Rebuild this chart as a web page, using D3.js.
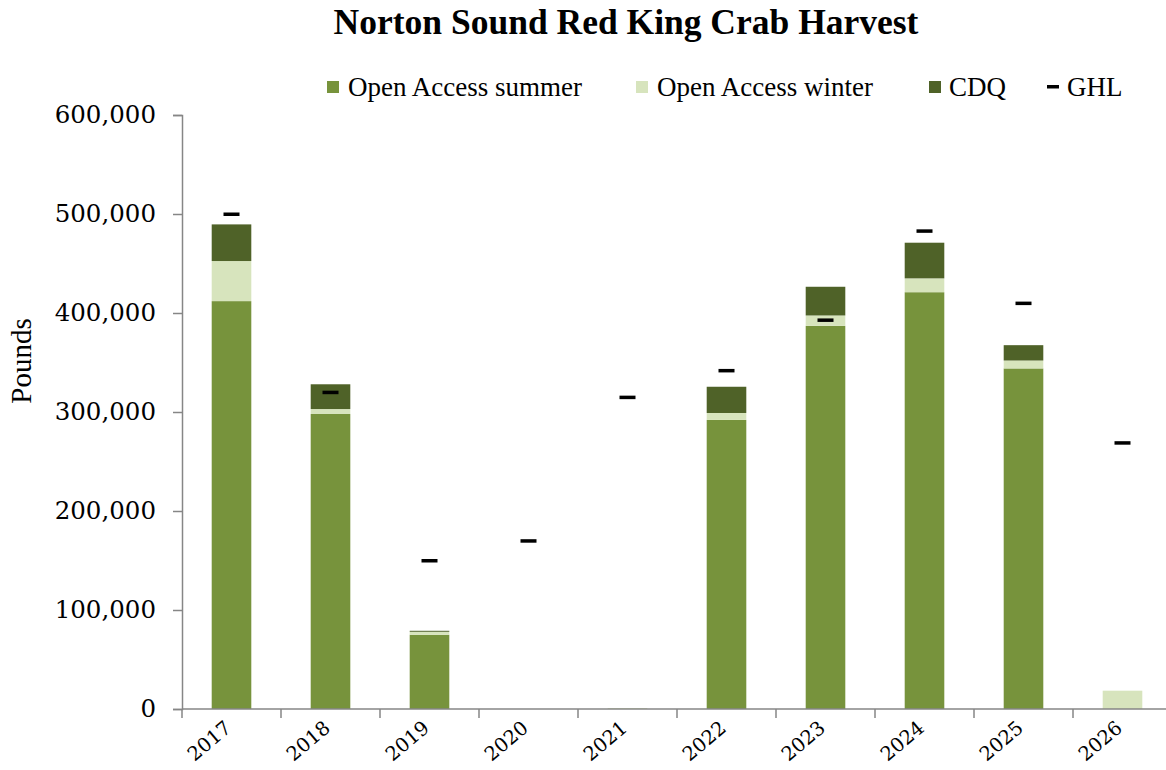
<!DOCTYPE html>
<html>
<head>
<meta charset="utf-8">
<script src="https://cdn.jsdelivr.net/npm/d3@7"></script>
<style>
  body { margin: 0; background: #fff; }
  svg { display: block; }
  .axis path, .axis line { stroke: #868686; stroke-width: 1.5; }
</style>
</head>
<body>
<script>
// values (pounds)
var years = ["2017", "2018", "2019", "2020", "2021", "2022", "2023", "2024", "2025", "2026"];
var summer = [412000, 298000, 75000, 0, 0, 292000, 387000, 421000, 344000, 0];
var winter = [40500, 5000, 3000, 0, 1000, 7000, 10500, 14000, 8000, 18500];
var cdq = [37000, 25000, 1000, 0, 0, 26500, 29000, 36000, 15500, 0];
var ghl = [500000, 320000, 150000, 170000, 315000, 342000, 393000, 483000, 410000, 269000];
var yTicks = [0, 100000, 200000, 300000, 400000, 500000, 600000];

var seriesNames = ["Open Access summer", "Open Access winter", "CDQ"];
var colors = ["#77933C", "#D7E4BD", "#4F6228"];

var width = 1166, height = 770;
var margin = { top: 115, left: 182 },
  h = 594,
  w = 990;

var svg = d3.select("body")
  .append("svg")
  .attr("width", width)
  .attr("height", height);

var rows = years.map(function (y, i) {
  return { year: y, summer: summer[i], winter: winter[i], cdq: cdq[i], ghl: ghl[i] };
});
var stack = d3.stack().keys(["summer", "winter", "cdq"]);
var layers = stack(rows);

var xScale = d3.scaleBand().domain(years).range([0, w]).paddingInner(0).paddingOuter(0);
var yScale = d3.scaleLinear().domain([0, 600000]).range([h, 0]);

var g = svg.append("g")
  .attr("transform", "translate(" + margin.left + "," + margin.top + ")");

// bars
var barW = xScale.bandwidth() * 0.4;
g.selectAll("g.layer")
  .data(layers)
  .enter()
  .append("g")
  .attr("class", "layer")
  .style("fill", function (d, i) { return colors[i]; })
  .selectAll("rect")
  .data(function (d) { return d; })
  .enter()
  .append("rect")
  .attr("x", function (d) { return xScale(d.data.year) + (xScale.bandwidth() - barW) / 2; })
  .attr("width", barW)
  .attr("y", function (d) { return yScale(d[1]); })
  .attr("height", function (d) { return yScale(d[0]) - yScale(d[1]); });

// GHL markers
g.selectAll("rect.ghl")
  .data(rows)
  .enter()
  .append("rect")
  .attr("class", "ghl")
  .attr("x", function (d) { return xScale(d.year) + xScale.bandwidth() / 2 - 8; })
  .attr("y", function (d) { return yScale(d.ghl) - 1.5; })
  .attr("width", 16)
  .attr("height", 3.5)
  .style("fill", "#000");

// y axis
var yAxis = d3.axisLeft(yScale)
  .tickValues(yTicks)
  .tickSize(9)
  .tickPadding(17)
  .tickFormat(d3.format(","));
var ya = g.append("g")
  .attr("class", "axis")
  .call(yAxis);
ya.selectAll("text")
  .style("font-family", "DejaVu Serif")
  .style("font-size", "24.5px")
  .style("fill", "#000");

// x axis: ticks at category boundaries
var xa = g.append("g")
  .attr("class", "axis")
  .attr("transform", "translate(0," + h + ")");
xa.append("line")
  .attr("x1", 0).attr("x2", w)
  .attr("y1", 0).attr("y2", 0);
xa.selectAll("line.tk")
  .data(years)
  .enter()
  .append("line")
  .attr("class", "tk")
  .attr("x1", function (d) { return xScale(d); })
  .attr("x2", function (d) { return xScale(d); })
  .attr("y1", 0).attr("y2", 9);
xa.selectAll("text")
  .data(years)
  .enter()
  .append("text")
  .attr("transform", function (d) {
    return "translate(" + (xScale(d) + xScale.bandwidth() / 2 + 1) + ",21) rotate(-40)";
  })
  .style("text-anchor", "end")
  .style("font-family", "DejaVu Serif")
  .style("font-size", "19.5px")
  .text(function (d) { return d; });

// y label
svg.append("text")
  .attr("transform", "translate(31,361) rotate(-90)")
  .style("text-anchor", "middle")
  .style("font-family", "Liberation Serif")
  .style("font-size", "29px")
  .text("Pounds");

// title
svg.append("text")
  .attr("x", 626)
  .attr("y", 34)
  .style("text-anchor", "middle")
  .style("font-family", "Liberation Serif")
  .style("font-weight", "bold")
  .style("font-size", "35.5px")
  .text("Norton Sound Red King Crab Harvest");

// legend
var legendItems = [
  { name: "Open Access summer", color: colors[0], x: 327, tx: 21, type: "box" },
  { name: "Open Access winter", color: colors[1], x: 636, tx: 21, type: "box" },
  { name: "CDQ", color: colors[2], x: 929, tx: 20, type: "box" },
  { name: "GHL", color: "#000", x: 1047, tx: 20, type: "dash" }
];
var lg = svg.append("g").attr("class", "legend");
var li = lg.selectAll("g")
  .data(legendItems)
  .enter()
  .append("g")
  .attr("transform", function (d) { return "translate(" + d.x + ",87)"; });
li.append("rect")
  .attr("x", 0)
  .attr("y", function (d) { return d.type == "box" ? -6 : -2; })
  .attr("width", 12)
  .attr("height", function (d) { return d.type == "box" ? 12 : 3.5; })
  .style("fill", function (d) { return d.color; });
li.append("text")
  .attr("x", function (d) { return d.tx; })
  .attr("y", 9)
  .style("font-family", "Liberation Serif")
  .style("font-size", "27px")
  .text(function (d) { return d.name; });
</script>
</body>
</html>
